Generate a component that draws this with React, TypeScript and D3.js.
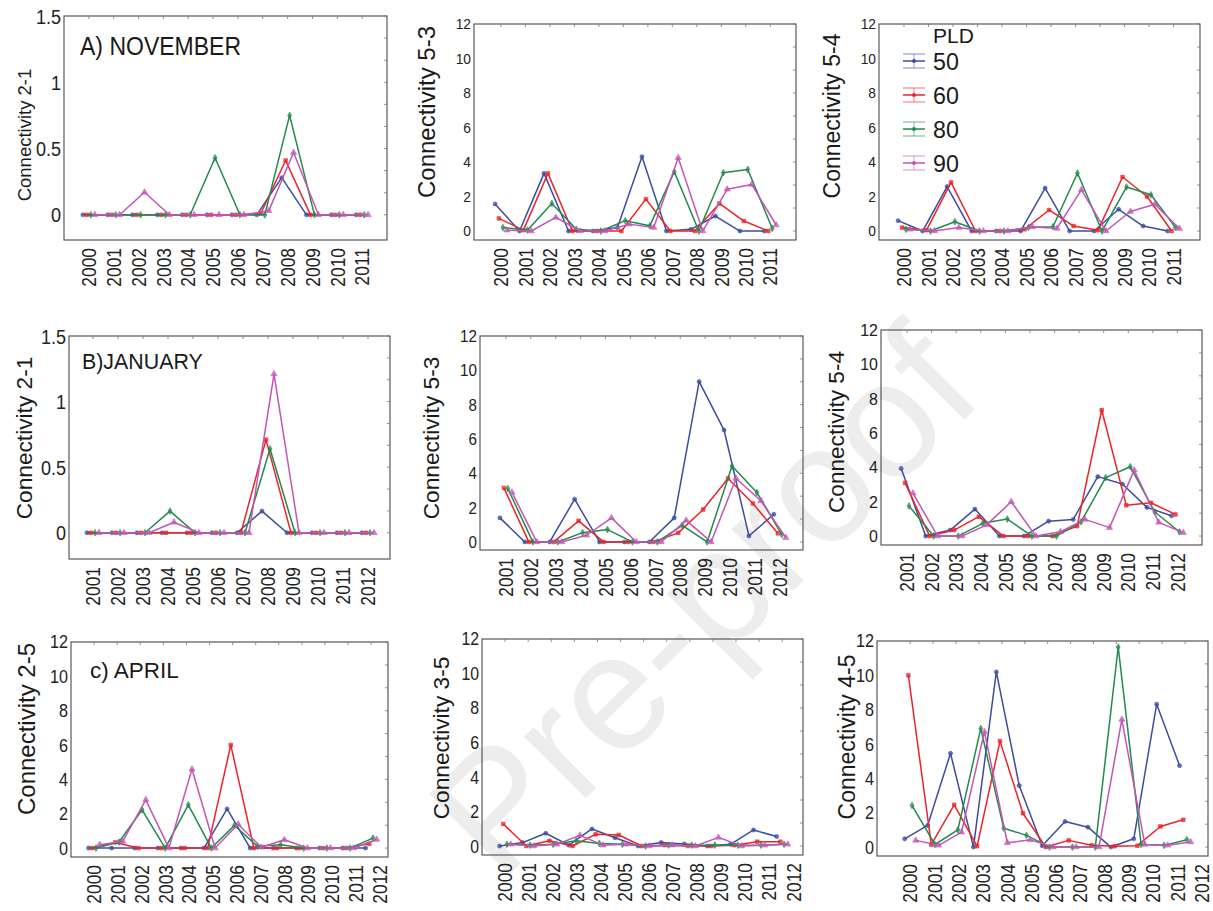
import React from 'react';
import * as d3 from 'd3';

const FONT = '"Liberation Sans", Arial, Helvetica, sans-serif';

const PLD = ['50', '60', '80', '90'];
const COLORS = ['#3b4d9e', '#ec2329', '#218a4d', '#c455b6'];
const OFFSETS = [-0.24, -0.08, 0.08, 0.24];
const SYMBOLS = [d3.symbolCircle, d3.symbolSquare, d3.symbolDiamond, d3.symbolTriangle];

const years2000_2011 = ['2000','2001','2002','2003','2004','2005','2006','2007','2008','2009','2010','2011'];
const years2001_2012 = ['2001','2002','2003','2004','2005','2006','2007','2008','2009','2010','2011','2012'];
const years2000_2012 = ['2000','2001','2002','2003','2004','2005','2006','2007','2008','2009','2010','2011','2012'];

const ticksSmall = [0, 0.5, 1, 1.5];
const ticksLarge = [0, 2, 4, 6, 8, 10, 12];

// A) NOVEMBER - Connectivity 2-1
const nov21_50 = [0, 0, 0, 0, 0, 0, 0, 0, 0.28, 0, 0, 0];
const nov21_60 = [0, 0, 0, 0, 0, 0, 0, 0.01, 0.41, 0, 0, 0];
const nov21_80 = [0, 0, 0, 0, 0, 0.43, 0, 0, 0.75, 0, 0, 0];
const nov21_90 = [0, 0, 0.17, 0, 0, 0, 0, 0.03, 0.47, 0, 0, 0];
// NOVEMBER - Connectivity 5-3
const nov53_50 = [1.57, 0, 3.34, 0, 0, 0.2, 4.31, 0, 0.1, 0.87, 0, 0];
const nov53_60 = [0.73, 0.05, 3.34, 0, 0, 0, 1.85, 0, 0, 1.6, 0.58, 0];
const nov53_80 = [0.2, 0.05, 1.6, 0.1, 0, 0.6, 0.3, 3.44, 0, 3.38, 3.57, 0.15];
const nov53_90 = [0.05, 0, 0.79, 0, 0, 0.4, 0.2, 4.25, 0, 2.42, 2.7, 0.35];
// NOVEMBER - Connectivity 5-4
const nov54_50 = [0.6, 0, 2.58, 0, 0, 0, 2.49, 0, 0, 1.26, 0.29, 0];
const nov54_60 = [0.2, 0.05, 2.82, 0, 0, 0.1, 1.22, 0.29, 0.05, 3.13, 2.0, 0];
const nov54_80 = [0.1, 0, 0.54, 0, 0, 0.2, 0.25, 3.36, 0, 2.55, 2.1, 0.2];
const nov54_90 = [0.1, 0, 0.21, 0, 0, 0.25, 0.15, 2.39, 0, 1.13, 1.55, 0.14];

// B) JANUARY - Connectivity 2-1
const jan21_50 = [0, 0, 0, 0, 0, 0, 0, 0.165, 0, 0, 0, 0];
const jan21_60 = [0, 0, 0, 0, 0, 0, 0, 0.71, 0, 0, 0, 0];
const jan21_80 = [0, 0, 0, 0.165, 0, 0, 0, 0.64, 0, 0, 0, 0];
const jan21_90 = [0, 0, 0, 0.08, 0, 0, 0, 1.21, 0, 0, 0, 0];
// JANUARY - Connectivity 5-3
const jan53_50 = [1.4, 0, 0, 2.49, 0, 0, 0, 1.4, 9.34, 6.52, 0.35, 1.61];
const jan53_60 = [3.15, 0, 0, 1.23, 0, 0, 0, 0.53, 1.89, 3.7, 2.24, 0.5];
const jan53_80 = [3.11, 0, 0, 0.54, 0.72, 0, 0, 0.97, 0, 4.42, 2.88, 0.43];
const jan53_90 = [2.9, 0, 0, 0.39, 1.4, 0, 0, 1.26, 0, 3.7, 2.4, 0.25];
// JANUARY - Connectivity 5-4
const jan54_50 = [3.94, 0, 0.35, 1.57, 0, 0, 0.87, 0.97, 3.46, 3.03, 1.67, 1.18];
const jan54_60 = [3.1, 0, 0.35, 1.13, 0, 0, 0, 0.58, 7.34, 1.79, 1.94, 1.26];
const jan54_80 = [1.75, 0, 0, 0.74, 0.99, 0, 0, 0.83, 3.4, 4.04, 1.4, 0.25];
const jan54_90 = [2.5, 0, 0, 0.65, 2.0, 0, 0.25, 0.97, 0.49, 3.84, 0.8, 0.2];

// c) APRIL - Connectivity 2-5
const apr25_50 = [0, 0, 0, 0, 0, 0, 2.28, 0, 0, 0, 0, 0, 0];
const apr25_60 = [0, 0.33, 0, 0, 0, 0, 6.0, 0, 0, 0, 0, 0, 0.25];
const apr25_80 = [0, 0.35, 2.23, 0, 2.52, 0, 1.32, 0.1, 0.2, 0, 0, 0, 0.58];
const apr25_90 = [0.2, 0.39, 2.81, 0, 4.59, 0, 1.39, 0.05, 0.48, 0, 0, 0, 0.5];
// APRIL - Connectivity 3-5
const apr35_50 = [0, 0.2, 0.74, 0.05, 0.99, 0.48, 0, 0.2, 0.12, 0, 0.1, 0.93, 0.55];
const apr35_60 = [1.28, 0, 0.3, 0, 0.68, 0.64, 0, 0.05, 0, 0, 0.05, 0.25, 0.25];
const apr35_80 = [0.1, 0.05, 0.1, 0.3, 0.15, 0.1, 0, 0.05, 0.05, 0.05, 0.05, 0.05, 0.1];
const apr35_90 = [0.1, 0, 0.1, 0.62, 0.05, 0.1, 0, 0.05, 0, 0.5, 0, 0.05, 0.1];
// APRIL - Connectivity 4-5
const apr45_50 = [0.48, 1.26, 5.46, 0, 10.2, 3.58, 0.08, 1.49, 1.16, 0, 0.48, 8.32, 4.74];
const apr45_60 = [10.0, 0.14, 2.46, 0.05, 6.17, 1.97, 0, 0.39, 0.1, 0.05, 0.08, 1.2, 1.59];
const apr45_80 = [2.42, 0.15, 1.0, 6.91, 1.1, 0.68, 0, 0, 0, 11.65, 0.15, 0.1, 0.43];
const apr45_90 = [0.39, 0.1, 0.87, 6.72, 0.25, 0.42, 0, 0, 0, 7.43, 0.15, 0.1, 0.3];

type PanelCfg = {
  box: [number, number, number, number];
  xDom: [number, number];
  yDom: [number, number];
  yTicks: number[];
  minorStep: number;
  tickFs: number;
  tickSx: number;
  years: string[];
  labelStretch: number;
  series: number[][];
  ylabel: string;
  ylx: number;
  lyc: number;
  lfs: number;
  title?: string;
  tx?: number;
  ty?: number;
  tfs?: number;
  tsx?: number;
  legend?: boolean;
};

const panels: PanelCfg[] = [
  { box: [64, 16, 387, 240], xDom: [-1, 12], yDom: [-0.19, 1.5], yTicks: ticksSmall, minorStep: 1 / 6, tickFs: 21, tickSx: 0.86,
    years: years2000_2011, labelStretch: 1, series: [nov21_50, nov21_60, nov21_80, nov21_90],
    ylabel: 'Connectivity 2-1', ylx: 25, lyc: 135, lfs: 18.5, title: 'A) NOVEMBER', tx: 80, ty: 55, tfs: 25, tsx: 0.92 },
  { box: [474, 24, 796, 240], xDom: [-1.1, 12.05], yDom: [-0.52, 12], yTicks: ticksLarge, minorStep: 4 / 3, tickFs: 14.5, tickSx: 0.95,
    years: years2000_2011, labelStretch: 1, series: [nov53_50, nov53_60, nov53_80, nov53_90],
    ylabel: 'Connectivity 5-3', ylx: 428, lyc: 112, lfs: 24 },
  { box: [879, 24, 1200, 240], xDom: [-1.02, 12.08], yDom: [-0.52, 12], yTicks: ticksLarge, minorStep: 4 / 3, tickFs: 14.5, tickSx: 0.95,
    years: years2000_2011, labelStretch: 1, series: [nov54_50, nov54_60, nov54_80, nov54_90],
    ylabel: 'Connectivity 5-4', ylx: 833, lyc: 116, lfs: 23, legend: true },
  { box: [69, 336, 390, 559], xDom: [-0.96, 11.88], yDom: [-0.2, 1.5], yTicks: ticksSmall, minorStep: 1 / 6, tickFs: 21, tickSx: 0.86,
    years: years2001_2012, labelStretch: 1, series: [jan21_50, jan21_60, jan21_80, jan21_90],
    ylabel: 'Connectivity 2-1', ylx: 25, lyc: 438, lfs: 22.7, title: 'B)JANUARY', tx: 82, ty: 369, tfs: 22.5, tsx: 0.95 },
  { box: [480, 336, 803, 550], xDom: [-1.04, 11.93], yDom: [-0.47, 12], yTicks: ticksLarge, minorStep: 4 / 3, tickFs: 16.5, tickSx: 0.92,
    years: years2001_2012, labelStretch: 1, series: [jan53_50, jan53_60, jan53_80, jan53_90],
    ylabel: 'Connectivity 5-3', ylx: 432, lyc: 438, lfs: 22.7 },
  { box: [881, 330, 1202, 545], xDom: [-1.06, 12.0], yDom: [-0.52, 12], yTicks: ticksLarge, minorStep: 4 / 3, tickFs: 16.5, tickSx: 0.97,
    years: years2001_2012, labelStretch: 1, series: [jan54_50, jan54_60, jan54_80, jan54_90],
    ylabel: 'Connectivity 5-4', ylx: 837, lyc: 432, lfs: 22.6 },
  { box: [71, 642, 388, 857], xDom: [-1.0, 12.73], yDom: [-0.52, 12], yTicks: ticksLarge, minorStep: 4 / 3, tickFs: 18, tickSx: 0.9,
    years: years2000_2012, labelStretch: 1.03, series: [apr25_50, apr25_60, apr25_80, apr25_90],
    ylabel: 'Connectivity 2-5', ylx: 28, lyc: 729, lfs: 24, title: 'c) APRIL', tx: 90, ty: 678, tfs: 22.5, tsx: 1 },
  { box: [482, 639, 803, 855], xDom: [-1.0, 12.9], yDom: [-0.52, 12], yTicks: ticksLarge, minorStep: 4 / 3, tickFs: 18, tickSx: 0.88,
    years: years2000_2012, labelStretch: 1.04, series: [apr35_50, apr35_60, apr35_80, apr35_90],
    ylabel: 'Connectivity 3-5', ylx: 442, lyc: 738, lfs: 22.7 },
  { box: [877, 641, 1208, 856], xDom: [-1.45, 13.0], yDom: [-0.52, 12], yTicks: ticksLarge, minorStep: 4 / 3, tickFs: 18, tickSx: 0.9,
    years: years2000_2012, labelStretch: 1.06, series: [apr45_50, apr45_60, apr45_80, apr45_90],
    ylabel: 'Connectivity 4-5', ylx: 848, lyc: 737, lfs: 23 },
];

function Panel({ cfg }: { cfg: PanelCfg }) {
  const [x0, y0, x1, y1] = cfg.box;
  const x = d3.scaleLinear().domain(cfg.xDom).range([x0, x1]);
  const y = d3.scaleLinear().domain(cfg.yDom).range([y1, y0]);
  const step = x(1) - x(0);
  const labelX = (i: number) => x(0) + i * step * cfg.labelStretch;
  const minor = d3.range(0, cfg.yDom[1] + 1e-9, cfg.minorStep);
  const frame = '#4a4a4a';

  return (
    <g>
      <rect x={x0} y={y0} width={x1 - x0} height={y1 - y0} fill="none" stroke={frame} strokeWidth={1.1} />
      {cfg.years.map((_, i) => (
        <line key={'tt' + i} x1={x(i)} x2={x(i)} y1={y0} y2={y0 + 3} stroke="#777" strokeWidth={0.8} />
      ))}
      {minor.map((v, i) => (
        <line key={'rt' + i} x1={x1} x2={x1 - 3} y1={y(v)} y2={y(v)} stroke="#777" strokeWidth={0.8} />
      ))}
      {cfg.yTicks.map((v) => (
        <text key={'yt' + v} transform={`translate(${x0 - 3},${y(v)}) scale(${cfg.tickSx},1)`} dy="0.36em"
          textAnchor="end" fontSize={cfg.tickFs} fontFamily={FONT} fill="#222">{String(v)}</text>
      ))}
      {cfg.years.map((yr, i) => (
        <text key={'xl' + yr} transform={`translate(${labelX(i)},${y1 + 8}) rotate(-90) scale(0.87,1)`} dy="0.36em"
          textAnchor="end" fontSize={20} fontFamily={FONT} fill="#222">{yr}</text>
      ))}
      <text transform={`translate(${cfg.ylx},${cfg.lyc}) rotate(-90)`} dy="0.3em" textAnchor="middle"
        fontSize={cfg.lfs} fontFamily={FONT} fill="#1a1a1a">{cfg.ylabel}</text>
      {cfg.title && (
        <text transform={`translate(${cfg.tx},${cfg.ty}) scale(${cfg.tsx},1)`} fontSize={cfg.tfs}
          fontFamily={FONT} fill="#1a1a1a">{cfg.title}</text>
      )}
      {cfg.series.map((vals, s) => {
        const line = d3.line<number>()
          .x((_, i) => x(i + OFFSETS[s]))
          .y((v) => y(v));
        const sym = d3.symbol().type(SYMBOLS[s]).size(s === 3 ? 16 : 13);
        return (
          <g key={'s' + s}>
            <path d={line(vals) || ''} fill="none" stroke={COLORS[s]} strokeWidth={1.5} strokeLinejoin="round" />
            {vals.map((v, i) => (
              <path key={i} d={sym() || ''} transform={`translate(${x(i + OFFSETS[s])},${y(v)})`}
                fill={COLORS[s]} fillOpacity={0.75} stroke={COLORS[s]} strokeWidth={0.6} />
            ))}
          </g>
        );
      })}
      {cfg.legend && (
        <g>
          <text x={933} y={43} fontSize={21} fontFamily={FONT} fill="#1a1a1a">PLD</text>
          {PLD.map((lab, s) => {
            const cy = 61 + s * 34;
            const sym = d3.symbol().type(d3.symbolCircle).size(12);
            return (
              <g key={'lg' + lab}>
                <line x1={903} x2={925} y1={cy - 7} y2={cy - 7} stroke={COLORS[s]} strokeOpacity={0.55} strokeWidth={1.2} />
                <line x1={903} x2={925} y1={cy + 7} y2={cy + 7} stroke={COLORS[s]} strokeOpacity={0.55} strokeWidth={1.2} />
                <line x1={914} x2={914} y1={cy - 7} y2={cy + 7} stroke={COLORS[s]} strokeOpacity={0.55} strokeWidth={1} />
                <line x1={903} x2={925} y1={cy} y2={cy} stroke={COLORS[s]} strokeWidth={1.5} />
                <path d={sym() || ''} transform={`translate(914,${cy})`} fill={COLORS[s]} />
                <text transform={`translate(933,${cy}) scale(0.95,1)`} dy="0.36em" fontSize={24.5}
                  fontFamily={FONT} fill="#1a1a1a">{lab}</text>
              </g>
            );
          })}
        </g>
      )}
    </g>
  );
}

export default function App() {
  return (
    <svg width={1213} height={911} viewBox="0 0 1213 911"
      style={{ position: 'absolute', left: 0, top: 0, background: '#fff' }}>
      <rect x={0} y={0} width={1213} height={911} fill="#fff" />
      <text transform="translate(500,884) rotate(-45)" textAnchor="start" fontSize={165} fontFamily={FONT}
        fill="#ededed">Pre-proof</text>
      {panels.map((p, i) => <Panel key={i} cfg={p} />)}
    </svg>
  );
}
